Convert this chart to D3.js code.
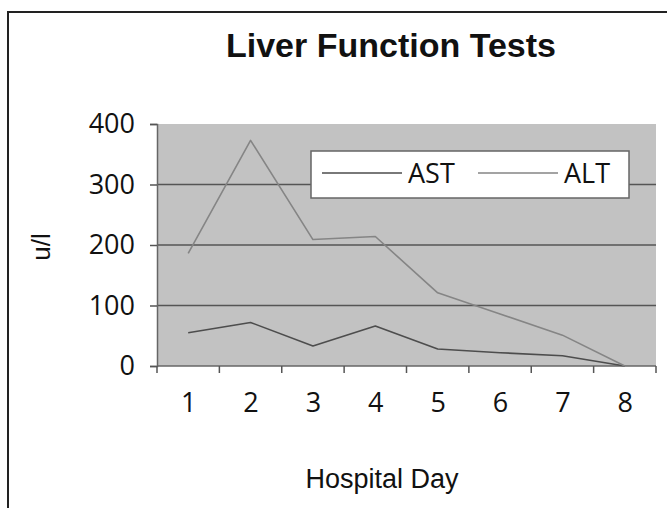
<!DOCTYPE html>
<html>
<head>
<meta charset="utf-8">
<script src="https://cdn.jsdelivr.net/npm/d3@7"></script>
<style>
  html, body { margin: 0; padding: 0; background: #fff; }
  svg { display: block; }
</style>
</head>
<body>
<svg id="chart" width="667" height="508"></svg>
<script>
const days = ["1", "2", "3", "4", "5", "6", "7", "8"];
const astValues = [55, 72, 33, 66, 28, 22, 17, 0];
const altValues = [186, 373, 209, 214, 121, 86, 51, 0];
const yTicks = [0, 100, 200, 300, 400];
const seriesNames = ["AST", "ALT"];
const seriesColors = ["#4d4d4d", "#858585"];

const svg = d3.select("#chart");

// outer frame
svg.append("rect")
  .attr("x", 8).attr("y", 12).attr("width", 680).attr("height", 520)
  .attr("fill", "#fff").attr("stroke", "#222").attr("stroke-width", 2);

const plot = { left: 157, right: 656, top: 124, bottom: 366 };

const x = d3.scaleBand().domain(days).range([plot.left, plot.right]).padding(0);
const y = d3.scaleLinear().domain([0, 400]).range([plot.bottom, plot.top]);

// plot background
svg.append("rect")
  .attr("x", plot.left).attr("y", plot.top)
  .attr("width", plot.right - plot.left).attr("height", plot.bottom - plot.top)
  .attr("fill", "#c2c2c2");

// gridlines
svg.append("g").selectAll("line")
  .data(yTicks.filter(d => d > 0 && d < 400))
  .join("line")
  .attr("x1", plot.left).attr("x2", plot.right)
  .attr("y1", d => y(d)).attr("y2", d => y(d))
  .attr("stroke", "#555").attr("stroke-width", 1.5);

// y axis
const yAxis = svg.append("g")
  .attr("transform", `translate(${plot.left},0)`)
  .call(d3.axisLeft(y).tickValues(yTicks).tickSize(7).tickPadding(15).tickFormat(d3.format("d")));
yAxis.select(".domain").attr("stroke", "#666").attr("stroke-width", 1.5);
yAxis.selectAll(".tick line").attr("stroke", "#555").attr("stroke-width", 1.5);
yAxis.selectAll("text")
  .attr("font-family", "'Open Sans', sans-serif").attr("font-size", 27).attr("fill", "#111");

// x axis: labels at band centers, ticks at band boundaries
const xCenter = d3.scalePoint().domain(days).range([x(days[0]) + x.bandwidth() / 2, x(days[days.length - 1]) + x.bandwidth() / 2]);
const xAxis = svg.append("g")
  .attr("transform", `translate(0,${plot.bottom})`)
  .call(d3.axisBottom(xCenter).tickSize(0).tickPadding(27));
xAxis.select(".domain").remove();
xAxis.selectAll("text")
  .attr("font-family", "'Open Sans', sans-serif").attr("font-size", 27).attr("fill", "#111");

const boundaries = days.map(d => x(d)).concat([x.range()[1]]);
svg.append("line")
  .attr("x1", plot.left).attr("x2", plot.right)
  .attr("y1", plot.bottom).attr("y2", plot.bottom)
  .attr("stroke", "#666").attr("stroke-width", 1.5);
svg.append("g").selectAll("line")
  .data(boundaries)
  .join("line")
  .attr("x1", d => d).attr("x2", d => d)
  .attr("y1", plot.bottom).attr("y2", plot.bottom + 7)
  .attr("stroke", "#555").attr("stroke-width", 1.5);

// lines
const line = d3.line()
  .x((d, i) => x(days[i]) + x.bandwidth() / 2)
  .y(d => y(d));

[astValues, altValues].forEach((vals, i) => {
  svg.append("path")
    .datum(vals)
    .attr("d", line)
    .attr("fill", "none")
    .attr("stroke", seriesColors[i])
    .attr("stroke-width", 1.6)
    .attr("stroke-linejoin", "round");
});

// legend
const legend = svg.append("g");
legend.append("rect")
  .attr("x", 311).attr("y", 151).attr("width", 318).attr("height", 47)
  .attr("fill", "#fff").attr("stroke", "#666").attr("stroke-width", 1.5);
const legendStarts = [322, 478];
seriesNames.forEach((name, i) => {
  const x0 = legendStarts[i];
  legend.append("line")
    .attr("x1", x0).attr("x2", x0 + 80)
    .attr("y1", 173).attr("y2", 173)
    .attr("stroke", seriesColors[i]).attr("stroke-width", 1.6);
  legend.append("text")
    .attr("x", x0 + 86).attr("y", 183)
    .attr("font-family", "'Open Sans', sans-serif").attr("font-size", 27).attr("fill", "#111")
    .text(name);
});

// title
svg.append("text")
  .attr("x", 391).attr("y", 57)
  .attr("text-anchor", "middle")
  .attr("font-family", "'Liberation Sans', Arial, sans-serif")
  .attr("font-weight", "bold").attr("font-size", 34).attr("fill", "#111")
  .text("Liver Function Tests");

// axis titles
svg.append("text")
  .attr("x", 382).attr("y", 488)
  .attr("text-anchor", "middle")
  .attr("font-family", "'Liberation Sans', Arial, sans-serif")
  .attr("font-size", 27).attr("fill", "#111")
  .text("Hospital Day");

svg.append("text")
  .attr("transform", "translate(50,247) rotate(-90)")
  .attr("text-anchor", "middle")
  .attr("font-family", "'Liberation Sans', Arial, sans-serif")
  .attr("font-size", 26).attr("fill", "#111")
  .text("u/l");
</script>
</body>
</html>
